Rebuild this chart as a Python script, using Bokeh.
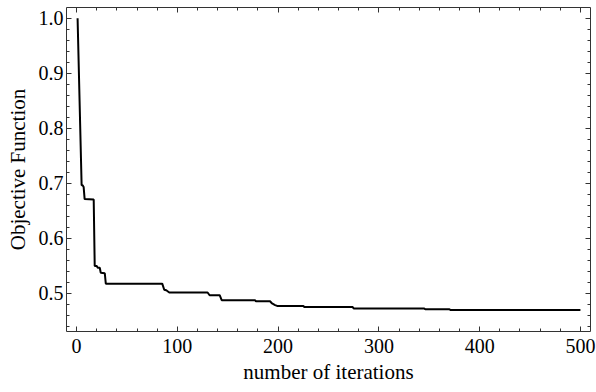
from bokeh.plotting import figure
from bokeh.models import Range1d, FixedTicker, LinearAxis, CustomJSTickFormatter
from bokeh.embed import file_html
from bokeh.resources import INLINE

# data
iterations = [1, 5, 6, 7, 8, 17, 18, 20, 21, 23, 24, 28, 29, 85, 87, 89, 92, 130, 132,
              142, 144, 177, 178, 192, 194, 197, 199, 225, 226, 274, 275, 345, 346,
              370, 371, 500]
objective = [1.0, 0.696, 0.696, 0.693, 0.671, 0.670, 0.549, 0.549, 0.546, 0.546, 0.537,
             0.536, 0.517, 0.517, 0.506, 0.505, 0.501, 0.501, 0.496, 0.496, 0.487, 0.487,
             0.485, 0.485, 0.481, 0.478, 0.4765, 0.4765, 0.4745, 0.4745, 0.472, 0.472,
             0.4705, 0.4705, 0.469, 0.469]

x_major = [0, 100, 200, 300, 400, 500]
x_minor = [v for v in range(0, 501, 20)]
y_major = [0.5, 0.6, 0.7, 0.8, 0.9, 1.0]
y_minor = [round(0.44 + 0.02 * i, 2) for i in range(30)]

FONT = "Liberation Serif"
FRAME = "#333333"

p = figure(width=596, height=392, output_backend="svg", toolbar_location=None,
           x_range=Range1d(-10, 510), y_range=Range1d(0.430, 1.0195),
           min_border_left=66, min_border_right=6, min_border_top=7, min_border_bottom=61)
p.background_fill_color = "white"
p.border_fill_color = "white"
p.outline_line_color = FRAME
p.outline_line_width = 1
p.grid.visible = False

p.line(iterations, objective, line_color="black", line_width=2)

def style(ax, ticks, minor):
    ax.ticker = FixedTicker(ticks=ticks, minor_ticks=minor)
    ax.axis_line_color = None
    ax.major_tick_in = 5
    ax.major_tick_out = 0
    ax.minor_tick_in = 3
    ax.minor_tick_out = 0
    ax.major_tick_line_color = FRAME
    ax.minor_tick_line_color = FRAME
    ax.major_label_text_font = FONT
    ax.major_label_text_font_size = "20px"
    ax.major_label_text_color = "black"

xa = p.xaxis[0]
ya = p.yaxis[0]
style(xa, x_major, x_minor)
style(ya, y_major, y_minor)
ya.formatter = CustomJSTickFormatter(code="return tick.toFixed(1);")
xa.major_label_standoff = 7
ya.major_label_standoff = 3
xa.axis_label = "number of iterations"
ya.axis_label = "Objective Function"
for ax in (xa, ya):
    ax.axis_label_text_font = FONT
    ax.axis_label_text_font_size = "21px"
    ax.axis_label_text_font_style = "normal"
    ax.axis_label_text_color = "black"
xa.axis_label_standoff = 4
ya.axis_label_standoff = 6

top = LinearAxis()
right = LinearAxis()
style(top, x_major, x_minor)
style(right, y_major, y_minor)
for ax, ticks in ((top, x_major), (right, y_major)):
    ax.major_label_overrides = {t: "" for t in ticks}
    ax.major_label_standoff = 0
p.add_layout(top, "above")
p.add_layout(right, "right")

open("out.html", "w").write(file_html(p, INLINE))
